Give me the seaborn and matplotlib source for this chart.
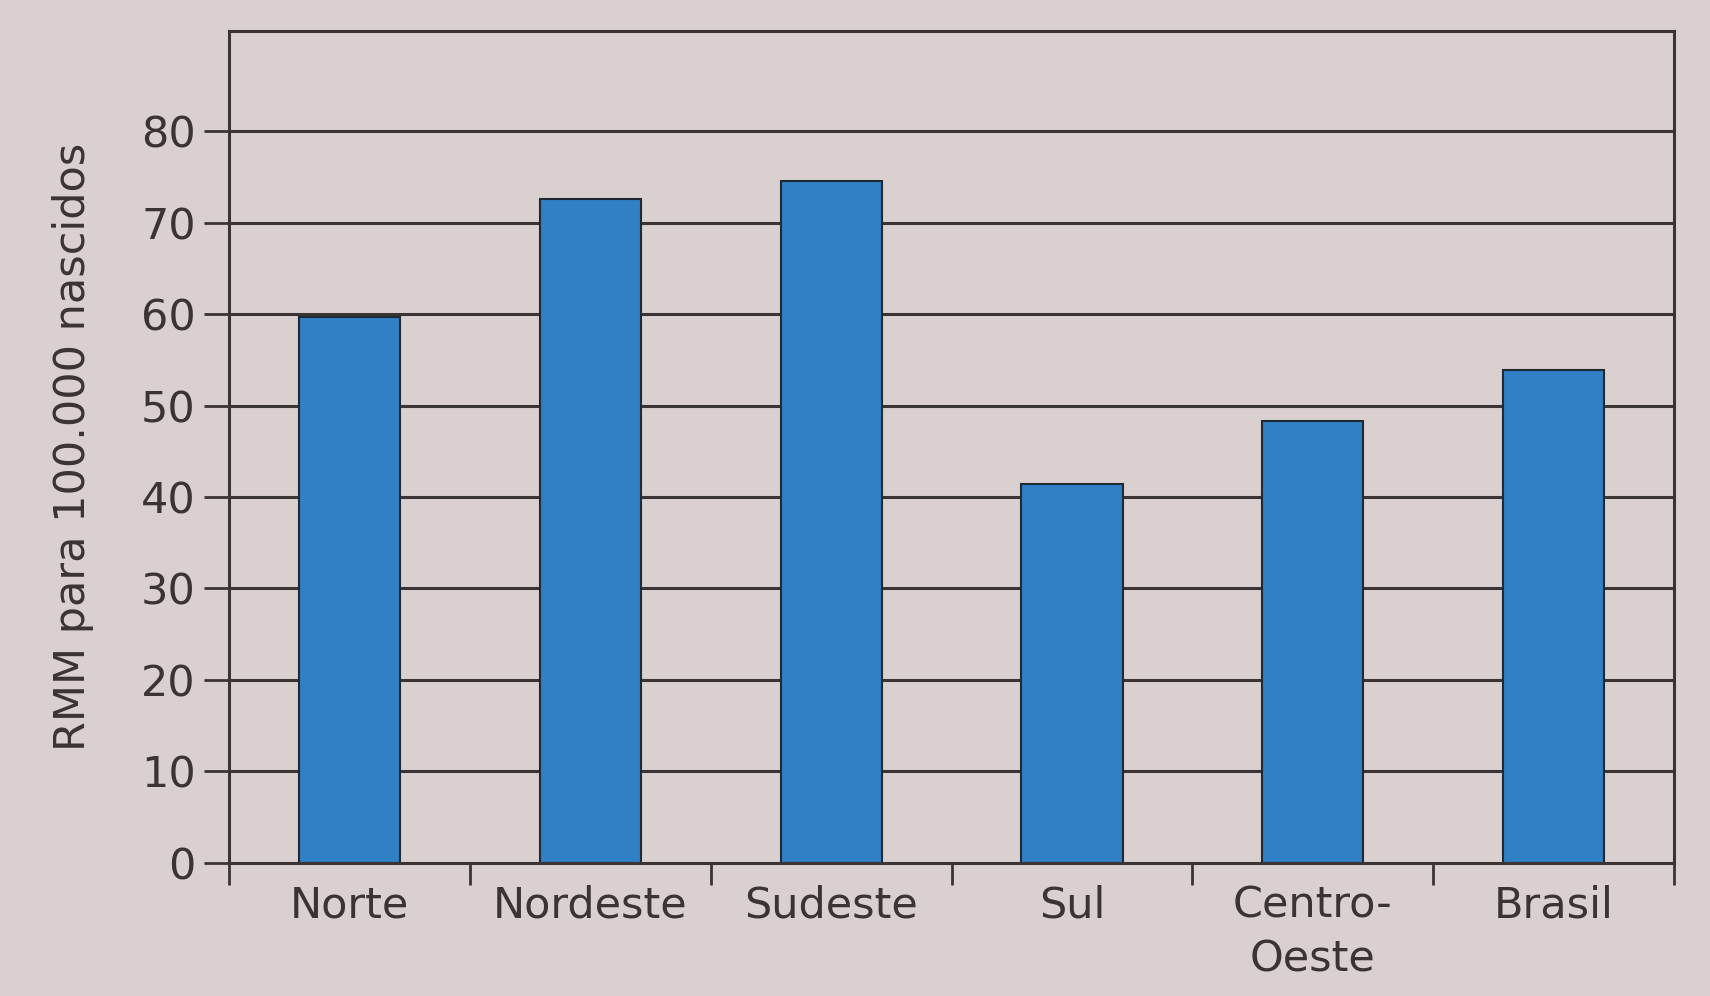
import pandas as pd
import seaborn as sns
import matplotlib.pyplot as plt
from matplotlib.ticker import FixedLocator

# values (RMM per 100.000 births)
regions = ['Norte', 'Nordeste', 'Sudeste', 'Sul', 'Centro-\nOeste', 'Brasil']
rmm = [59.7, 72.6, 74.6, 41.4, 48.3, 53.9]
y_ticks = [0, 10, 20, 30, 40, 50, 60, 70, 80]

paper = '#d9d0cf'
ink = '#3b3434'
bar_blue = '#2f80c4'

sns.set_style('white')
plt.rcParams['font.family'] = ['DejaVu Sans']

df = pd.DataFrame({'regiao': regions, 'rmm': rmm})

fig = plt.figure(figsize=(17.1, 9.96), dpi=100, facecolor=paper)
ax = fig.add_axes([0.134, 0.134, 0.845, 0.835], facecolor=paper)

# horizontal grid lines behind the bars
for t in y_ticks[1:]:
    ax.axhline(t, color=ink, linewidth=2.2, zorder=0)

sns.barplot(data=df, x='regiao', y='rmm', color=bar_blue, saturation=1,
            width=0.42, edgecolor='#1f2a33', linewidth=1.5, zorder=2, ax=ax)

ax.set_ylim(0, 91)
ax.set_xlim(-0.5, len(regions) - 0.5)
ax.set_yticks(y_ticks)
ax.set_xlabel('')
ax.set_ylabel('RMM para 100.000 nascidos', fontsize=31, color=ink, labelpad=34)

# category separators as small ticks below the axis
ax.xaxis.set_minor_locator(FixedLocator([i - 0.5 for i in range(len(regions) + 1)]))
ax.tick_params(axis='x', which='minor', length=16, width=2, color=ink,
               direction='out', bottom=True)
ax.tick_params(axis='x', which='major', length=0, pad=16, labelsize=31,
               labelcolor=ink, bottom=True)
ax.tick_params(axis='y', length=18, width=2, color=ink, pad=6, labelsize=31,
               labelcolor=ink, left=True)
for lbl in ax.get_xticklabels():
    lbl.set_linespacing(1.35)

for side in ['left', 'right', 'top', 'bottom']:
    ax.spines[side].set_visible(True)
    ax.spines[side].set_color(ink)
    ax.spines[side].set_linewidth(2.2)

plt.savefig('out.png', dpi=100, facecolor=paper)
plt.close()
